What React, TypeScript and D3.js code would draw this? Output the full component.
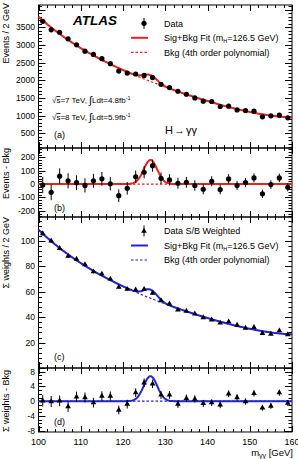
import React, { useEffect, useRef } from 'react';
import * as d3 from 'd3';

// bin centres (2 GeV bins)
const massBins = [
  101, 103, 105, 107, 109, 111, 113, 115, 117, 119, 121, 123, 125, 127, 129,
  131, 133, 135, 137, 139, 141, 143, 145, 147, 149, 151, 153, 155, 157, 159,
];

// (a) events / 2 GeV
const eventsData = [
  3667, 3425, 3358, 3172, 3003, 2823, 2730, 2609, 2468, 2260, 2204, 2176, 2135, 2075, 1886,
  1793, 1689, 1604, 1500, 1407, 1399, 1258, 1267, 1162, 1145, 1126, 965, 994, 1013, 937,
];

// (b) events - bkg
const eventsResidual = [
  -7, -62, 59, 24, 10, -10, 24, 39, 2, -87, -32, 54, 88, 137, 43,
  31, 6, 13, -11, -39, 21, -41, 38, -11, 11, 46, -73, -4, 46, -24,
];

// (c) S/B weighted sum / 2 GeV
const weightedData = [
  106.0, 100.2, 94.3, 88.2, 85.9, 81.5, 75.9, 74.1, 70.2, 63.7, 62.1, 61.6, 62.1, 59.0, 53.2,
  50.6, 45.9, 44.9, 42.7, 39.8, 38.0, 35.5, 36.5, 33.9, 31.5, 32.0, 27.3, 26.8, 29.4, 26.3,
];

// (d) weighted sum - bkg
const weightedResidual = [
  0.1, -0.1, 0.1, -1.5, 1.2, 1.0, -0.4, 1.4, 1.4, -2.4, -0.8, 2.3, 5.0, 4.7, 1.7,
  1.7, -0.8, 0.8, 0.6, -0.6, -0.4, -1.0, 2.0, 1.0, -0.1, 2.1, -1.8, -1.3, 2.3, -0.5,
];

// background shape read at 5 GeV steps, smoothed with a 4th order polynomial
const bkgMassKnots = [100, 105, 110, 115, 120, 125, 130, 135, 140, 145, 150, 155, 160];
const bkgEventsKnots = [3800, 3305, 2910, 2575, 2290, 2048, 1805, 1595, 1412, 1238, 1105, 1008, 948];
const bkgWeightedKnots = [109, 94.5, 82.5, 72.8, 64.5, 57.3, 50.4, 44.4, 39.4, 34.8, 30.9, 28.2, 26.4];

// signal component
const higgsMass = 126.5;
const signalWidth = 1.6;
const signalEvents = 180;
const signalWeighted = 6.8;

// tick labels
const massTicks = [100, 110, 120, 130, 140, 150, 160];
const eventsTicks = [500, 1000, 1500, 2000, 2500, 3000, 3500];
const eventsResidTicks = [-200, -100, 0, 100, 200];
const weightedTicks = [20, 40, 60, 80, 100];
const weightedResidTicks = [-8, -4, 0, 4, 8];

const FONT = "'Liberation Sans', Arial, Helvetica, sans-serif";
const RED = '#e8231f';
const BLUE = '#2323d8';

const fitPoly = (xs: number[], ys: number[], deg = 4) => {
  const n = deg + 1;
  const norm = (m: number) => (m - 130) / 30;
  const A = Array.from({ length: n }, () => new Array(n + 1).fill(0));
  xs.forEach((m, k) => {
    const t = norm(m);
    const p = d3.range(n).map((i) => t ** i);
    for (let i = 0; i < n; i++) {
      for (let j = 0; j < n; j++) A[i][j] += p[i] * p[j];
      A[i][n] += p[i] * ys[k];
    }
  });
  for (let c = 0; c < n; c++) {
    let piv = c;
    for (let r = c + 1; r < n; r++) if (Math.abs(A[r][c]) > Math.abs(A[piv][c])) piv = r;
    [A[c], A[piv]] = [A[piv], A[c]];
    for (let r = 0; r < n; r++) {
      if (r === c) continue;
      const f = A[r][c] / A[c][c];
      for (let k = c; k <= n; k++) A[r][k] -= f * A[c][k];
    }
  }
  const coef = A.map((row, i) => row[n] / row[i]);
  return (m: number) => coef.reduce((s, c, i) => s + c * norm(m) ** i, 0);
};

const gauss = (m: number, amp: number) =>
  amp * Math.exp(-((m - higgsMass) ** 2) / (2 * signalWidth ** 2));

const App: React.FC = () => {
  const ref = useRef<SVGSVGElement | null>(null);

  useEffect(() => {
    if (!ref.current) return;
    const svg = d3.select(ref.current);
    svg.selectAll('*').remove();
    svg.append('rect').attr('width', 298).attr('height', 459).attr('fill', '#fff');

    const X0 = 38.5;
    const X1 = 292;
    const x = d3.scaleLinear().domain([100, 160]).range([X0, X1]);
    const curveMass = d3.range(0, 301).map((i) => 100 + i * 0.2);

    const bkgEvents = fitPoly(bkgMassKnots, bkgEventsKnots);
    const bkgWeighted = fitPoly(bkgMassKnots, bkgWeightedKnots);

    const text = (
      g: d3.Selection<any, unknown, null, undefined>,
      tx: number,
      ty: number,
      str: string,
      size: number,
      anchor = 'start'
    ) =>
      g
        .append('text')
        .attr('x', tx)
        .attr('y', ty)
        .attr('font-family', FONT)
        .attr('font-size', size)
        .attr('text-anchor', anchor)
        .attr('fill', '#000')
        .text(str);

    const panel = (
      top: number,
      bottom: number,
      domain: [number, number],
      major: number,
      minor: number,
      labels: number[]
    ) => {
      const y = d3.scaleLinear().domain(domain).range([bottom, top]);
      const g = svg.append('g');
      const ax = g.append('g').attr('stroke', '#000').attr('stroke-width', 1);
      const seg = (x1: number, y1: number, x2: number, y2: number) =>
        ax.append('line').attr('x1', x1).attr('y1', y1).attr('x2', x2).attr('y2', y2);

      // y ticks, left and mirrored on the right
      const first = Math.ceil(domain[0] / minor);
      const last = Math.floor(domain[1] / minor);
      d3.range(first, last + 1).forEach((k) => {
        const v = k * minor;
        const isMajor = Math.abs(v / major - Math.round(v / major)) < 1e-6;
        const len = isMajor ? 7 : 3.5;
        const yy = Math.round(y(v)) + 0.5;
        seg(X0, yy, X0 + len, yy);
        seg(X1, yy, X1 - len, yy);
      });

      // x ticks on top and bottom
      d3.range(0, 31).forEach((k) => {
        const m = 100 + k * 2;
        const len = m % 10 === 0 ? 6 : 3;
        const xx = Math.round(x(m)) + 0.5;
        seg(xx, bottom, xx, bottom - len);
        seg(xx, top, xx, top + len);
      });

      ax.append('rect')
        .attr('x', X0)
        .attr('y', top)
        .attr('width', X1 - X0)
        .attr('height', bottom - top)
        .attr('fill', 'none');

      labels.forEach((v) => text(g, 35, y(v) + 3, String(v), 8.5, 'end'));
      return { g, y };
    };

    const yTitle = (str: string, yEnd: number) =>
      svg
        .append('text')
        .attr('transform', `translate(8.5,${yEnd}) rotate(-90)`)
        .attr('font-family', FONT)
        .attr('font-size', 9)
        .attr('text-anchor', 'end')
        .text(str);

    const lineOf = (y: d3.ScaleLinear<number, number>, f: (m: number) => number) =>
      d3
        .line<number>()
        .x((m) => x(m))
        .y((m) => y(f(m)))(curveMass);

    const drawCurves = (
      g: d3.Selection<any, unknown, null, undefined>,
      y: d3.ScaleLinear<number, number>,
      bkg: (m: number) => number,
      amp: number,
      color: string
    ) => {
      g.append('path')
        .attr('d', lineOf(y, bkg))
        .attr('fill', 'none')
        .attr('stroke', color)
        .attr('stroke-width', 1.2)
        .attr('stroke-dasharray', '2.5,2');
      g.append('path')
        .attr('d', lineOf(y, (m) => bkg(m) + gauss(m, amp)))
        .attr('fill', 'none')
        .attr('stroke', color)
        .attr('stroke-width', 2);
    };

    const errBars = (
      g: d3.Selection<any, unknown, null, undefined>,
      y: d3.ScaleLinear<number, number>,
      vals: number[],
      errs: number[]
    ) =>
      g
        .append('g')
        .selectAll('line')
        .data(vals)
        .enter()
        .append('line')
        .attr('x1', (_, i) => x(massBins[i]))
        .attr('x2', (_, i) => x(massBins[i]))
        .attr('y1', (d, i) => y(d - errs[i]))
        .attr('y2', (d, i) => y(d + errs[i]))
        .attr('stroke', '#000')
        .attr('stroke-width', 1);

    const dots = (
      g: d3.Selection<any, unknown, null, undefined>,
      y: d3.ScaleLinear<number, number>,
      vals: number[]
    ) =>
      g
        .append('g')
        .selectAll('circle')
        .data(vals)
        .enter()
        .append('circle')
        .attr('cx', (_, i) => x(massBins[i]))
        .attr('cy', (d) => y(d))
        .attr('r', 2.6)
        .attr('fill', '#000');

    const tri = d3.symbol().type(d3.symbolTriangle).size(14)();
    const triangles = (
      g: d3.Selection<any, unknown, null, undefined>,
      y: d3.ScaleLinear<number, number>,
      vals: number[]
    ) =>
      g
        .append('g')
        .selectAll('path')
        .data(vals)
        .enter()
        .append('path')
        .attr('d', tri)
        .attr('transform', (d, i) => `translate(${x(massBins[i])},${y(d)})`)
        .attr('fill', '#000');

    const eventErr = eventsData.map((v) => Math.sqrt(v));
    const weightErr = weightedData.map((v) => 0.15 * Math.sqrt(v));

    // (a) diphoton mass spectrum
    const a = panel(5, 148, [84, 4128], 500, 100, eventsTicks);
    drawCurves(a.g, a.y, bkgEvents, signalEvents, RED);
    errBars(a.g, a.y, eventsData, eventErr);
    dots(a.g, a.y, eventsData);

    // (b) background-subtracted events
    const b = panel(148, 217, [-246, 269], 100, 20, eventsResidTicks);
    drawCurves(b.g, b.y, () => 0, signalEvents, RED);
    errBars(b.g, b.y, eventsResidual, eventErr);
    dots(b.g, b.y, eventsResidual);

    // (c) weighted spectrum
    const c = panel(217, 368, [0, 119], 20, 4, weightedTicks);
    drawCurves(c.g, c.y, bkgWeighted, signalWeighted, BLUE);
    errBars(c.g, c.y, weightedData, weightErr);
    triangles(c.g, c.y, weightedData);

    // (d) weighted, background-subtracted
    const d = panel(368, 432, [-8.35, 9], 4, 1, weightedResidTicks);
    drawCurves(d.g, d.y, () => 0, signalWeighted, BLUE);
    errBars(d.g, d.y, weightedResidual, weightErr);
    triangles(d.g, d.y, weightedResidual);

    // axis titles
    yTitle('Events / 2 GeV', 3);
    yTitle('Events - Bkg', 148);
    yTitle('\u03a3 weights / 2 GeV', 217);
    yTitle('\u03a3 weights - Bkg', 370);

    massTicks.forEach((m) => text(svg, x(m), 445, String(m), 9, 'middle'));
    const xt = text(svg, 293, 456, 'm', 9.5, 'end');
    xt.append('tspan').attr('dy', 2).attr('font-size', 7).text('\u03b3\u03b3');
    xt.append('tspan').attr('dy', -2).text(' [GeV]');

    // panel tags
    text(svg, 54, 138, '(a)', 9);
    text(svg, 54, 211, '(b)', 9);
    text(svg, 54, 360, '(c)', 9);
    text(svg, 54, 425, '(d)', 9);

    // ATLAS label and run conditions
    text(svg, 73, 25, 'ATLAS', 13.5)
      .attr('font-weight', 'bold')
      .attr('font-style', 'italic');

    const lumi = (ty: number, energy: string, lint: string) => {
      const t = text(svg, 52, ty, '\u221a', 8);
      t.append('tspan').attr('text-decoration', 'overline').text('s');
      t.append('tspan').text(`=${energy} TeV, `);
      t.append('tspan').attr('font-size', 11).attr('dy', 1).text('\u222b');
      t.append('tspan').attr('dy', -1).text(`Ldt=${lint}fb`);
      t.append('tspan').attr('dy', -3).attr('font-size', 5.5).text('-1');
    };
    lumi(103, '7', '4.8');
    lumi(120, '8', '5.9');

    const hgg = text(svg, 165, 134, 'H', 11);
    hgg.append('tspan').attr('dx', 1).text('\u2192');
    hgg.append('tspan').attr('dx', 1).text('\u03b3\u03b3');

    // legends
    const legend = (
      top: number,
      color: string,
      marker: 'circle' | 'triangle',
      first: string
    ) => {
      const lg = svg.append('g');
      lg.append('line')
        .attr('x1', 144)
        .attr('x2', 144)
        .attr('y1', top - 5.5)
        .attr('y2', top + 5.5)
        .attr('stroke', '#000');
      if (marker === 'circle') {
        lg.append('circle').attr('cx', 144).attr('cy', top).attr('r', 2.6).attr('fill', '#000');
      } else {
        lg.append('path').attr('d', tri).attr('transform', `translate(144,${top})`).attr('fill', '#000');
      }
      text(lg, 164, top + 3.2, first, 9);
      lg.append('line')
        .attr('x1', 131)
        .attr('x2', 148)
        .attr('y1', top + 14.5)
        .attr('y2', top + 14.5)
        .attr('stroke', color)
        .attr('stroke-width', 2);
      const s = text(lg, 164, top + 17.7, 'Sig+Bkg Fit  (m', 9);
      s.append('tspan').attr('dy', 2).attr('font-size', 5.5).text('H');
      s.append('tspan').attr('dy', -2).text('=126.5 GeV)');
      lg.append('line')
        .attr('x1', 131)
        .attr('x2', 148)
        .attr('y1', top + 29)
        .attr('y2', top + 29)
        .attr('stroke', color)
        .attr('stroke-width', 1.2)
        .attr('stroke-dasharray', '2.5,2');
      text(lg, 164, top + 32.2, 'Bkg (4th order polynomial)', 9);
    };
    legend(23.3, RED, 'circle', 'Data');
    legend(231, BLUE, 'triangle', 'Data S/B Weighted');
  }, []);

  return (
    <svg
      ref={ref}
      width={298}
      height={459}
      style={{ position: 'absolute', left: 0, top: 0, display: 'block' }}
    />
  );
};

export default App;
